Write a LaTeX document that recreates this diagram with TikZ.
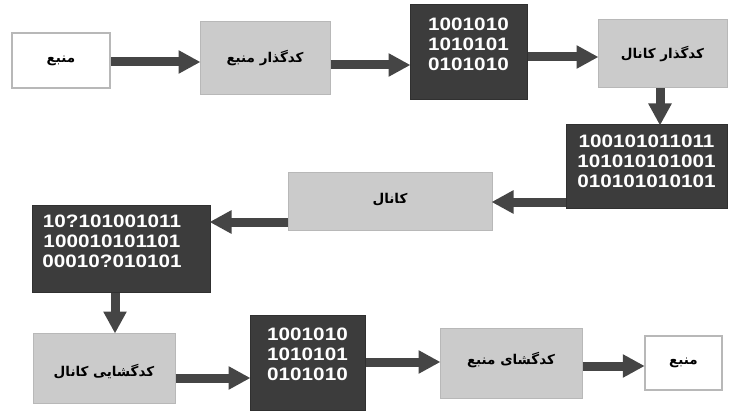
\documentclass[tikz,border=0pt]{standalone}
\usepackage{fontspec}
\setmainfont{Liberation Sans}
\newfontfamily\arabicfont[Script=Arabic,BoldFont={DejaVu Sans Bold}]{DejaVu Sans}
\newfontfamily\bitfont[FakeStretch=1.15]{Liberation Sans Bold}
\TeXXeTstate=1
\usetikzlibrary{arrows.meta}
\definecolor{darkbox}{HTML}{3C3C3C}
\definecolor{lightbox}{HTML}{CBCBCB}
\definecolor{lightedge}{HTML}{B8B8B8}
\definecolor{arrowgray}{HTML}{454545}
\tikzset{
  whitebox/.style={draw=lightedge, line width=2.5pt, fill=white, inner sep=0pt},
  graybox/.style={draw=lightedge, line width=1pt, fill=lightbox, inner sep=0pt},
  bitbox/.style={draw=darkbox!80!black, line width=1pt, fill=darkbox, inner sep=0pt},
  fa/.style={font=\arabicfont\bfseries\fontsize{13.5}{15}\selectfont},
  bits/.style={text=white, font=\bitfont\fontsize{18}{20}\selectfont, align=center, inner sep=0pt},
  bigarrow/.style={draw=arrowgray, line width=9pt, -{Triangle[length=22pt,width=22pt]}, shorten >=-1pt}
}
\begin{document}
\begin{tikzpicture}[x=1pt,y=-1pt]
\useasboundingbox (0,0) rectangle (732,412);
% boxes
\node[whitebox, minimum width=98, minimum height=55] (src) at (61,60.5) {};
\node[fa] at (src) {\beginR منبع\endR};
\node[graybox, minimum width=130, minimum height=73] (senc) at (265,58.5) {};
\node[fa] at (senc) {\beginR کدگذار منبع\endR};
\node[bitbox, minimum width=117, minimum height=95] (b1) at (468.5,52.5) {};
\node[bits] at (468.5,44) {1001010\\1010101\\0101010};
\node[graybox, minimum width=129, minimum height=68] (cenc) at (662.5,54) {};
\node[fa] at (cenc) {\beginR کدگذار کانال\endR};
\node[bitbox, minimum width=161, minimum height=83] (b2) at (646.5,166.5) {};
\node[bits] at (646.5,161) {100101011011\\101010101001\\010101010101};
\node[graybox, minimum width=204, minimum height=58] (chan) at (390,201) {};
\node[fa] at (390,200) {\beginR کانال\endR};
\node[bitbox, minimum width=178, minimum height=87] (b3) at (121,248.5) {};
\node[bits] at (112,241) {10?101001011\\100010101101\\00010?010101};
\node[graybox, minimum width=142, minimum height=70] (cdec) at (104,368) {};
\node[fa] at (104,372) {\beginR کدگشایی کانال\endR};
\node[bitbox, minimum width=115, minimum height=95] (b4) at (307.5,362.5) {};
\node[bits] at (307.5,354) {1001010\\1010101\\0101010};
\node[graybox, minimum width=142, minimum height=70] (sdec) at (511,363) {};
\node[fa] at (511,360) {\beginR کدگشای منبع\endR};
\node[whitebox, minimum width=77, minimum height=54] (dst) at (683.5,363) {};
\node[fa] at (dst) {\beginR منبع\endR};
% rows for arrows
\coordinate (r1) at (0,62);
\coordinate (r2) at (0,65);
\coordinate (r3) at (0,57);
\coordinate (c4) at (660,0);
\coordinate (r5) at (0,202);
\coordinate (r6) at (0,222);
\coordinate (c7) at (115,0);
\coordinate (r8) at (0,378);
\coordinate (r9) at (0,362);
\coordinate (r10) at (0,366);
% arrows
\draw[bigarrow] (src.east |- r1) -- (senc.west |- r1);
\draw[bigarrow] (senc.east |- r2) -- (b1.west |- r2);
\draw[bigarrow] (b1.east |- r3) -- (cenc.west |- r3);
\draw[bigarrow] (cenc.south -| c4) -- (b2.north -| c4);
\draw[bigarrow] (b2.west |- r5) -- (chan.east |- r5);
\draw[bigarrow] (chan.west |- r6) -- (b3.east |- r6);
\draw[bigarrow] (b3.south -| c7) -- (cdec.north -| c7);
\draw[bigarrow] (cdec.east |- r8) -- (b4.west |- r8);
\draw[bigarrow] (b4.east |- r9) -- (sdec.west |- r9);
\draw[bigarrow] (sdec.east |- r10) -- (dst.west |- r10);
\end{tikzpicture}
\end{document}
